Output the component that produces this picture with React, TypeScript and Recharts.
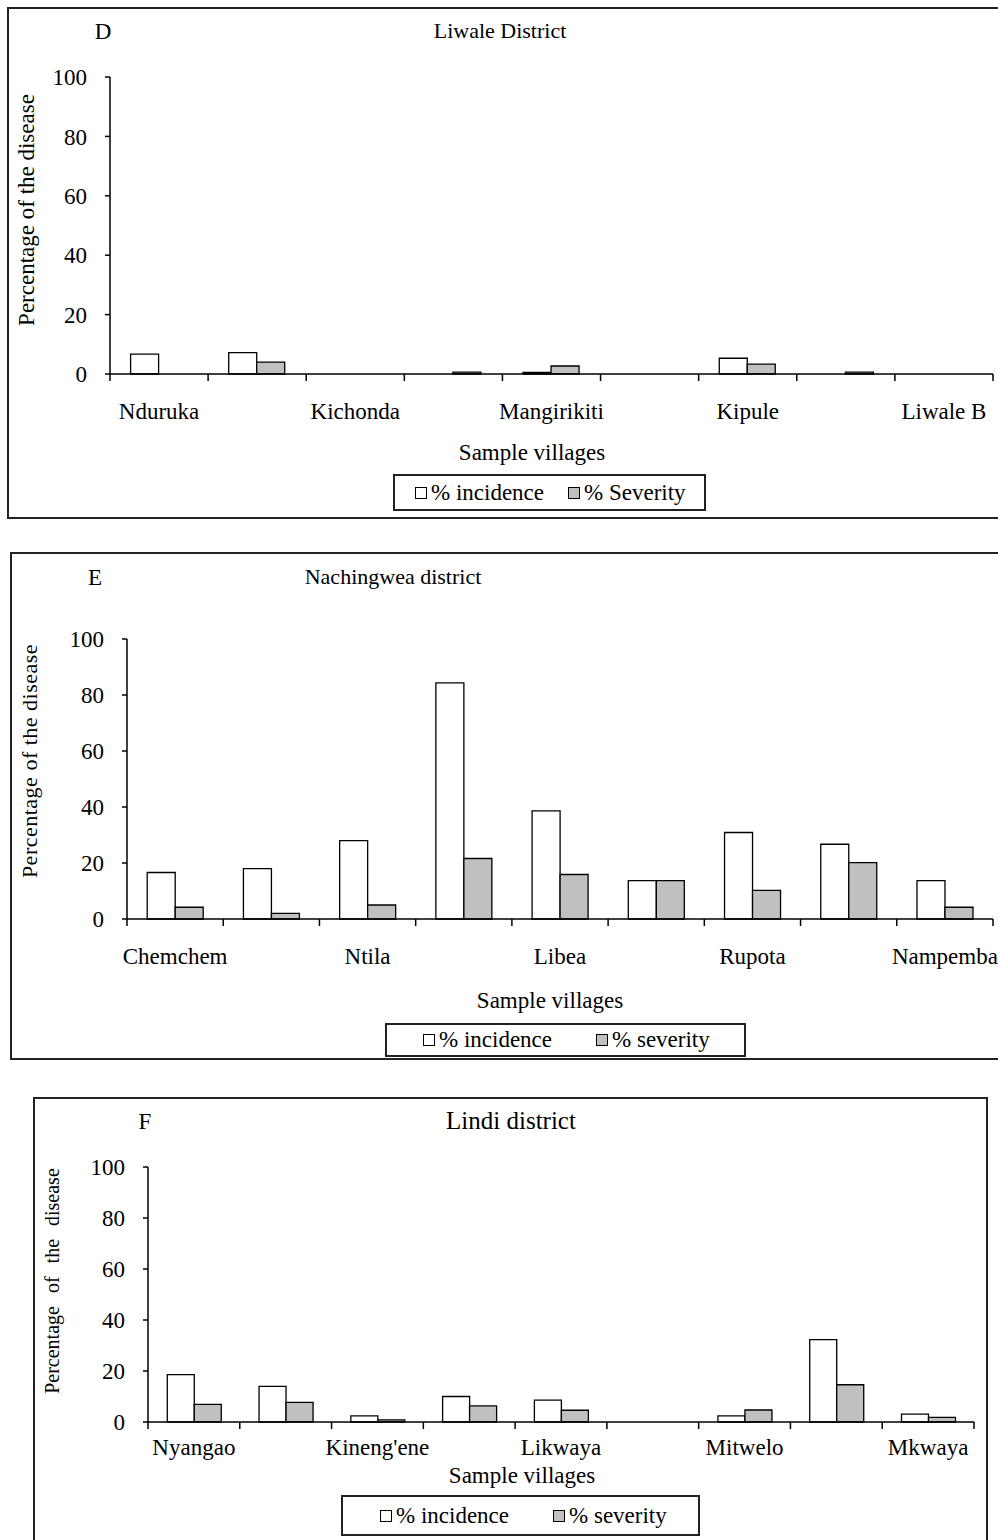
import { Bar, BarChart, Legend, XAxis, YAxis } from "recharts";

const FONT = "Liberation Serif, serif";
const PAGE_W = 998;
const Y_AXIS_W = 60;

// D - Liwale District
const liwaleVillages = ["Nduruka", "", "Kichonda", "", "Mangirikiti", "", "Kipule", "", "Liwale B"];
const liwaleIncidence = [6.7, 7.2, 0, 0, 0.5, 0, 5.3, 0, 0];
const liwaleSeverity = [0, 4.0, 0, 0.6, 2.7, 0, 3.3, 0.6, 0];

// E - Nachingwea district
const nachingweaVillages = ["Chemchem", "", "Ntila", "", "Libea", "", "Rupota", "", "Nampemba"];
const nachingweaIncidence = [16.6, 18.0, 28.0, 84.3, 38.6, 13.7, 30.9, 26.7, 13.7];
const nachingweaSeverity = [4.2, 2.0, 5.0, 21.6, 15.9, 13.7, 10.2, 20.1, 4.2];

// F - Lindi district
const lindiVillages = ["Nyangao", "", "Kineng'ene", "", "Likwaya", "", "Mitwelo", "", "Mkwaya"];
const lindiIncidence = [18.6, 14.0, 2.4, 10.0, 8.6, 0, 2.4, 32.3, 3.1];
const lindiSeverity = [6.9, 7.7, 0.8, 6.3, 4.6, 0, 4.7, 14.6, 1.8];

const yTicks = [0, 20, 40, 60, 80, 100];
const seriesOrder = ["incidence", "severity"];

type PanelCfg = {
  letter: string;
  title: string;
  villages: string[];
  incidence: number[];
  severity: number[];
  severityName: string;
  top: number;
  height: number;
  margin: { top: number; right: number; bottom: number; left: number };
  labelDy: number;
  box: React.CSSProperties;
  letterPos: [number, number];
  titlePos: [number, number];
  titleSize: number;
  yLabelPos: [number, number];
  yLabelStyle: React.CSSProperties;
  xLabelPos: [number, number];
  legend: { left: number; top: number; width: number; height: number; padLeft: number; gap: number };
};

const panels: PanelCfg[] = [
  {
    letter: "D",
    title: "Liwale District",
    villages: liwaleVillages,
    incidence: liwaleIncidence,
    severity: liwaleSeverity,
    severityName: "% Severity",
    top: 0,
    height: 520,
    margin: { top: 77, right: 5, bottom: 106, left: 50 },
    labelDy: 37,
    box: { left: 7, top: 7, width: 1000, height: 508 },
    letterPos: [103, 31],
    titlePos: [500, 31],
    titleSize: 22,
    yLabelPos: [26, 210],
    yLabelStyle: { fontSize: 23 },
    xLabelPos: [532, 452],
    legend: { left: 393, top: 474, width: 313, height: 37, padLeft: 20, gap: 24 },
  },
  {
    letter: "E",
    title: "Nachingwea district",
    villages: nachingweaVillages,
    incidence: nachingweaIncidence,
    severity: nachingweaSeverity,
    severityName: "% severity",
    top: 540,
    height: 525,
    margin: { top: 99, right: 5, bottom: 106, left: 67 },
    labelDy: 37,
    box: { left: 10, top: 552, width: 1000, height: 504 },
    letterPos: [95, 577],
    titlePos: [393, 577],
    titleSize: 22,
    yLabelPos: [30, 761],
    yLabelStyle: { fontSize: 22, letterSpacing: 0.5 },
    xLabelPos: [550, 1000],
    legend: { left: 385, top: 483, width: 361, height: 34, padLeft: 36, gap: 44 },
  },
  {
    letter: "F",
    title: "Lindi district",
    villages: lindiVillages,
    incidence: lindiIncidence,
    severity: lindiSeverity,
    severityName: "% severity",
    top: 1090,
    height: 450,
    margin: { top: 77, right: 24, bottom: 78, left: 88 },
    labelDy: 25,
    box: { left: 33, top: 1097, width: 951, height: 500 },
    letterPos: [145, 1121],
    titlePos: [511, 1120],
    titleSize: 25,
    yLabelPos: [52, 1281],
    yLabelStyle: { fontSize: 20, wordSpacing: 8 },
    xLabelPos: [522, 1475],
    legend: { left: 341, top: 405, width: 359, height: 41, padLeft: 37, gap: 44 },
  },
];

function VillageTick(props: any) {
  const { x, y, index, band, count, villages, labelDy } = props;
  const left = x - band / 2;
  const name = villages[index];
  return (
    <g>
      <line x1={left} y1={y} x2={left} y2={y + 7} stroke="#000" strokeWidth={1.5} />
      {index === count - 1 && (
        <line x1={x + band / 2} y1={y} x2={x + band / 2} y2={y + 7} stroke="#000" strokeWidth={1.5} />
      )}
      {name ? (
        <text
          x={x}
          y={y + labelDy}
          textAnchor="middle"
          dominantBaseline="central"
          fill="#000"
          style={{ fontFamily: FONT, fontSize: 23 }}
        >
          {name}
        </text>
      ) : null}
    </g>
  );
}

function LegendBox({ payload, padLeft, gap }: any) {
  const items = seriesOrder
    .map((k) => (payload || []).find((e: any) => e.dataKey === k))
    .filter(Boolean);
  return (
    <div
      style={{
        boxSizing: "border-box",
        width: "100%",
        height: "100%",
        border: "2px solid #222",
        background: "#fff",
        display: "flex",
        alignItems: "center",
        paddingLeft: padLeft,
        gap,
        fontFamily: FONT,
        fontSize: 23,
        color: "#000",
      }}
    >
      {items.map((entry: any) => (
        <div key={entry.dataKey} style={{ display: "flex", alignItems: "center", gap: 4 }}>
          <div
            style={{
              width: 10,
              height: 10,
              background: entry.color,
              border: "1.5px solid #000",
            }}
          />
          <span style={{ whiteSpace: "nowrap" }}>{entry.value}</span>
        </div>
      ))}
    </div>
  );
}

function textAt(x: number, y: number, style: React.CSSProperties, rotate = false): React.CSSProperties {
  return {
    position: "absolute",
    left: x,
    top: y,
    transform: `translate(-50%, -50%)${rotate ? " rotate(-90deg)" : ""}`,
    whiteSpace: "nowrap",
    fontFamily: FONT,
    color: "#000",
    lineHeight: 1,
    ...style,
  };
}

function DiseasePanel({ p }: { p: PanelCfg }) {
  const rows = p.villages.map((v, i) => ({
    slot: i,
    village: v,
    incidence: p.incidence[i],
    severity: p.severity[i],
  }));
  const plotW = PAGE_W - p.margin.left - Y_AXIS_W - p.margin.right;
  const band = plotW / rows.length;

  return (
    <>
      <div style={{ position: "absolute", border: "2px solid #222", ...p.box }} />
      <div style={{ position: "absolute", left: 0, top: p.top }}>
        <BarChart
          width={PAGE_W}
          height={p.height}
          data={rows}
          margin={p.margin}
          barCategoryGap="21%"
          barGap={0}
          style={{ fontFamily: FONT }}
        >
          <XAxis
            dataKey="slot"
            type="category"
            height={40}
            interval={0}
            stroke="#000"
            strokeWidth={1.5}
            tickLine={false}
            tickSize={0}
            tickMargin={0}
            tick={(tp: any) => (
              <VillageTick
                {...tp}
                band={band}
                count={rows.length}
                villages={p.villages}
                labelDy={p.labelDy}
              />
            )}
          />
          <YAxis
            type="number"
            domain={[0, 100]}
            ticks={yTicks}
            interval={0}
            width={Y_AXIS_W}
            stroke="#000"
            strokeWidth={1.5}
            tickSize={5}
            tickMargin={18}
            tick={{ fill: "#000", fontSize: 23, style: { fontFamily: FONT } }}
          />
          <Legend
            layout="horizontal"
            verticalAlign="middle"
            align="center"
            wrapperStyle={{
              left: p.legend.left,
              top: p.legend.top,
              width: p.legend.width,
              height: p.legend.height,
            }}
            content={(lp: any) => (
              <LegendBox payload={lp.payload} padLeft={p.legend.padLeft} gap={p.legend.gap} />
            )}
          />
          <Bar
            dataKey="incidence"
            name="% incidence"
            fill="#ffffff"
            stroke="#000"
            strokeWidth={1.3}
            isAnimationActive={false}
          />
          <Bar
            dataKey="severity"
            name={p.severityName}
            fill="#c0c0c0"
            stroke="#000"
            strokeWidth={1.3}
            isAnimationActive={false}
          />
        </BarChart>
      </div>
      <div style={textAt(p.letterPos[0], p.letterPos[1], { fontSize: 23 })}>{p.letter}</div>
      <div style={textAt(p.titlePos[0], p.titlePos[1], { fontSize: p.titleSize })}>{p.title}</div>
      <div style={textAt(p.yLabelPos[0], p.yLabelPos[1], p.yLabelStyle, true)}>
        Percentage of the disease
      </div>
      <div style={textAt(p.xLabelPos[0], p.xLabelPos[1], { fontSize: 23 })}>Sample villages</div>
    </>
  );
}

export default function App() {
  return (
    <div
      style={{
        position: "absolute",
        left: 0,
        top: 0,
        width: PAGE_W,
        height: 1540,
        overflow: "hidden",
        background: "#fff",
        fontFamily: FONT,
      }}
    >
      {panels.map((p) => (
        <DiseasePanel key={p.letter} p={p} />
      ))}
    </div>
  );
}
